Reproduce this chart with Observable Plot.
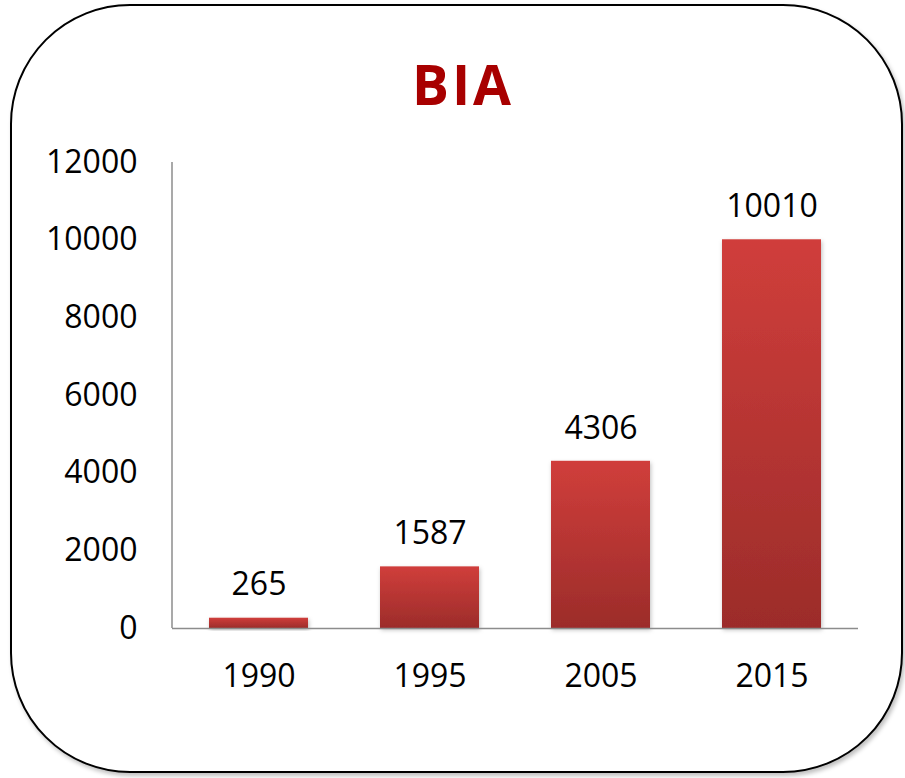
<!DOCTYPE html>
<html>
<head>
<meta charset="utf-8">
<script src="https://cdn.jsdelivr.net/npm/d3@7"></script>
<script src="https://cdn.jsdelivr.net/npm/@observablehq/plot@0.6"></script>
<style>
  html, body { margin: 0; padding: 0; background: #fff; width: 905px; height: 778px; overflow: hidden; }
  #box { position: absolute; left: 10px; top: 4px; width: 893px; height: 769px; box-sizing: border-box;
         border: 2px solid #000; border-radius: 120px; box-shadow: 2px 3px 4px rgba(0,0,0,0.25); background: #fff; }
  #title { position: absolute; left: 463px; top: 57px; transform: translateX(-50%);
           font-family: "Open Sans", sans-serif; font-weight: bold; font-size: 55px; line-height: 54px; letter-spacing: 3px; color: #A80000; white-space: nowrap; }
  #chart { position: absolute; left: 0; top: 130px; }
</style>
</head>
<body>
<div id="box"></div>
<div id="title">BIA</div>
<div id="chart"></div>
<script>
const years = ["1990", "1995", "2005", "2015"];
const values = [265, 1587, 4306, 10010];
const yTicks = [0, 2000, 4000, 6000, 8000, 10000, 12000];

const data = years.map((y, i) => ({year: y, value: values[i]}));

const plot = Plot.plot({
  width: 905,
  height: 640,
  marginLeft: 172,
  marginRight: 47,
  marginTop: 32,
  marginBottom: 142,
  style: {fontFamily: "'Open Sans', sans-serif", fontSize: "32px", color: "#000", background: "transparent", overflow: "visible"},
  x: {domain: years, paddingInner: 0.42, paddingOuter: 0.21, label: null},
  y: {domain: [0, 12000], label: null},
  marks: [
    Plot.barY(data, {x: "year", y: "value", fill: "url(#barGrad)"}),
    Plot.ruleY([0], {stroke: "#8c8c8c", strokeWidth: 1.5}),
    Plot.text(data, {x: "year", y: "value", text: d => String(d.value), dy: -33, fill: "#000", fontSize: 32}),
    Plot.axisY({ticks: yTicks, tickSize: 0, tickPadding: 35, tickFormat: d => String(d), fontSize: 32, label: null}),
    Plot.axisX({tickSize: 0, tickPadding: 36, fontSize: 32, label: null})
  ]
});

const svg = d3.select(plot);
const defs = svg.insert("defs", ":first-child");
const g = defs.append("linearGradient").attr("id", "barGrad").attr("x1", 0).attr("y1", 0).attr("x2", 0).attr("y2", 1);
g.append("stop").attr("offset", "0%").attr("stop-color", "#D03E3B");
g.append("stop").attr("offset", "100%").attr("stop-color", "#9C2C2A");
const f = defs.append("filter").attr("id", "barShadow").attr("x", "-10%").attr("y", "-10%").attr("width", "130%").attr("height", "130%");
f.append("feDropShadow").attr("dx", 1).attr("dy", 2).attr("stdDeviation", 2).attr("flood-color", "#000").attr("flood-opacity", 0.25);
svg.selectAll("g[aria-label='bar'] rect").attr("filter", "url(#barShadow)");

// vertical axis line drawn from the library's own scale ranges
const xr = plot.scale("x").range;
const yr = plot.scale("y").range;
svg.append("line")
  .attr("x1", xr[0]).attr("x2", xr[0])
  .attr("y1", yr[0]).attr("y2", yr[1])
  .attr("stroke", "#8c8c8c").attr("stroke-width", 1.5);

document.getElementById("chart").appendChild(plot);
</script>
</body>
</html>
